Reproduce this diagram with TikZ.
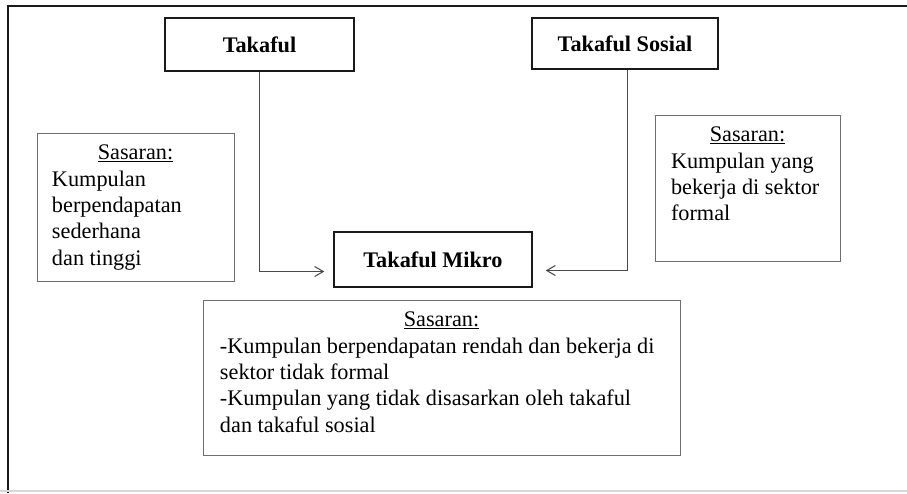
\documentclass[tikz,border=0pt]{standalone}
\usepackage{fontspec}
\setmainfont{Liberation Serif}
\usepackage{tikz}
\usetikzlibrary{arrows.meta,calc}
\definecolor{frame}{HTML}{1A1A1A}
\definecolor{edge}{HTML}{6E6E6E}
\definecolor{conn}{HTML}{4A4A4A}
\tikzset{
  tbox/.style={rectangle,draw=frame,line width=1.4pt,fill=white,
    font=\fontsize{19}{22.5}\selectfont\bfseries,inner sep=0pt},
  mbox/.style={tbox,line width=1.1pt},
  sbox/.style={rectangle,draw=edge,line width=0.8pt,fill=white,
    font=\fontsize{19}{22.5}\selectfont,inner sep=0pt},
  ar/.style={-{Straight Barb[length=2.6mm,width=3mm,line width=0.9pt]},line width=0.75pt,draw=conn},
}
\begin{document}
\begin{tikzpicture}[x=0.03cm,y=-0.03cm]
  \useasboundingbox (0,0) rectangle (907,493);
  % frame of the figure
  \draw[frame,line width=2.4pt] (8,493) -- (8,6) -- (907,6);
  \draw[black!15,line width=1.2pt] (0,491) -- (907,491);
  % the three schemes
  \node[tbox,minimum width=5.67cm,minimum height=1.59cm] (tak) at (259.5,44.5) {Takaful};
  \node[tbox,minimum width=5.58cm,minimum height=1.53cm] (sos) at (625,43.5) {Takaful Sosial};
  \node[mbox,minimum width=5.94cm,minimum height=1.65cm] (mikro) at (433,259.5) {Takaful Mikro};
  % target groups
  \node[sbox,minimum width=5.91cm,minimum height=4.44cm] (sktak) at (135.5,207)
    {\parbox[c][3.72cm][t]{5.01cm}{\raggedright\makebox[\linewidth]{\underline{Sasaran:}}\\
     Kumpulan\\berpendapatan\\sederhana\\dan tinggi}};
  \node[sbox,minimum width=5.55cm,minimum height=4.38cm] (sksos) at (747.5,188)
    {\parbox[c][3.66cm][t]{4.59cm}{\raggedright\makebox[\linewidth]{\underline{Sasaran:}}\\
     Kumpulan yang\\bekerja di sektor\\formal}};
  \node[sbox,minimum width=14.31cm,minimum height=4.65cm] (skmik) at (441.5,377.5)
    {\parbox[c][3.93cm][t]{13.29cm}{\raggedright\makebox[\linewidth]{\underline{Sasaran:}}\\
     -Kumpulan berpendapatan rendah dan bekerja di\\sektor tidak formal\\
     -Kumpulan yang tidak disasarkan oleh takaful\\dan takaful sosial}};
  % connectors
  \coordinate (ltip) at ([shift={(-9,12)}]mikro.west);
  \coordinate (rtip) at ([shift={(13,11)}]mikro.east);
  \draw[ar] (tak.south) |- (ltip);
  \draw[ar] ([xshift=0.06cm]sos.south) |- (rtip);
\end{tikzpicture}
\end{document}
